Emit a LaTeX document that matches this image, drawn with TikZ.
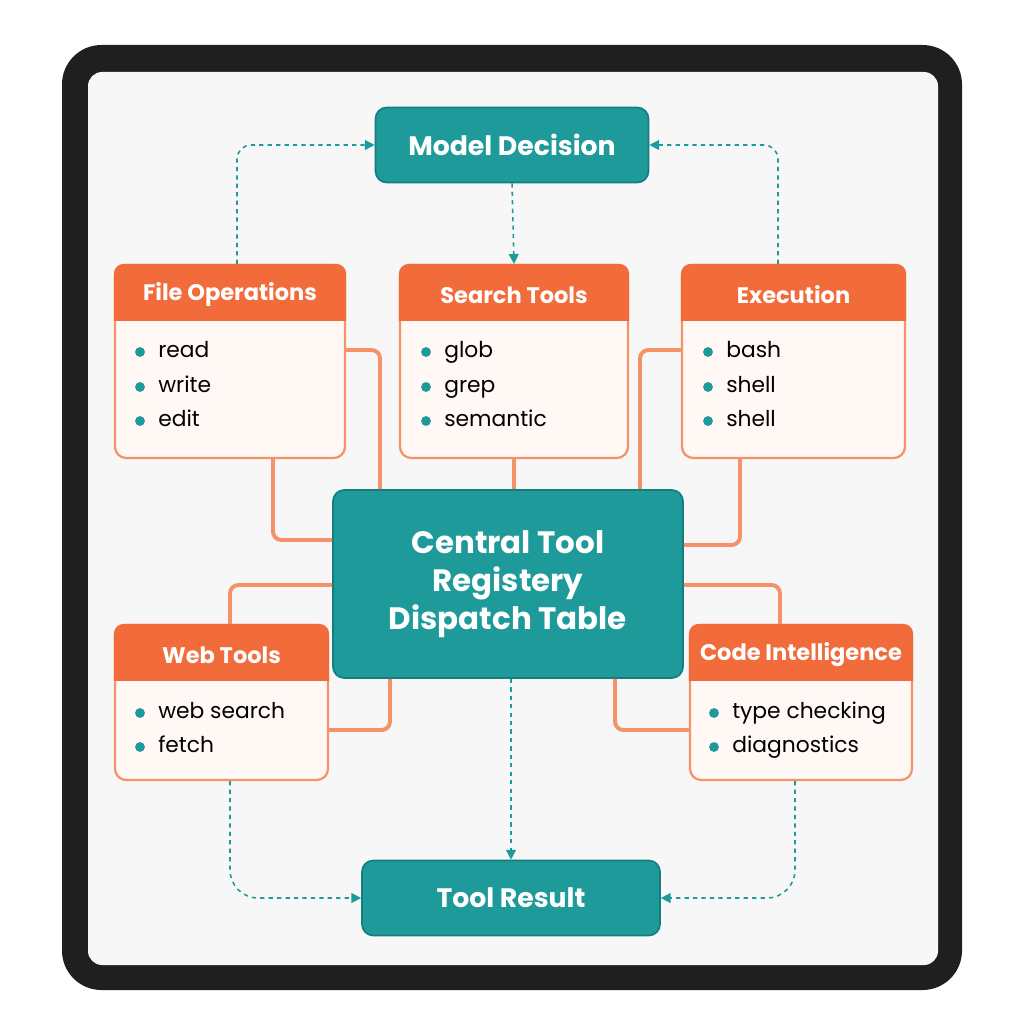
\documentclass[tikz,border=0pt]{standalone}
\usepackage{fontspec}
\setmainfont{Poppins}
\usetikzlibrary{calc,arrows.meta}
\definecolor{teal1}{HTML}{1E9A9A}
\definecolor{tealdk}{HTML}{137E80}
\definecolor{hdr}{HTML}{F26B3A}
\definecolor{wire}{HTML}{F4936A}
\definecolor{body}{HTML}{FFF8F4}
\tikzset{
  teal box/.style={draw=tealdk,line width=1.2pt,fill=teal1,rounded corners=8pt,text=white,font=\bfseries\fontsize{19}{21}\selectfont},
  tool box/.style={draw=wire,line width=1.6pt,fill=body,rounded corners=8pt},
  head/.style={text=white,font=\bfseries\fontsize{16}{18}\selectfont},
  item/.style={anchor=west,font=\fontsize{15.5}{17}\selectfont,inner sep=0pt,text height=11pt,text depth=3pt},
  dot/.style={circle,fill=teal1,inner sep=0pt,minimum size=7pt},
  flow/.style={draw=teal1,dashed,line width=1.1pt,-{Triangle[length=7pt,width=7pt]}},
  wire/.style={draw=wire,line width=2.8pt,rounded corners=6pt},
}
\newcommand{\toolbox}[6]{% name, x1, y1, x2, y2, title
  \node[tool box,minimum width={(#4-#2)*0.025cm},minimum height={(#5-#3)*0.025cm}] (#1) at ({(#2+#4)/2},{(#3+#5)/2}) {};
  \fill[hdr,rounded corners=7pt] (#1.north west) -- (#1.north east) [sharp corners] -- ($(#1.north east)+(0,57)$) -- ($(#1.north west)+(0,57)$) [rounded corners=7pt] -- cycle;
  \node[head] (#1-title) at ($(#1.north)+(0,31)$) {#6};
}
\begin{document}
\begin{tikzpicture}[x=0.025cm,y=-0.025cm]
\useasboundingbox (0,0) rectangle (1024,1024);
\fill[white] (0,0) rectangle (1024,1024);
% tablet
\fill[black!88,rounded corners=28pt] (62,45) rectangle (962,990);
\fill[black!3,rounded corners=10pt] (88,72) rectangle (938,965);
% teal nodes
\node[teal box,minimum width=273*0.025cm,minimum height=75*0.025cm] (model) at (512,145) {Model Decision};
\node[teal box,minimum width=298*0.025cm,minimum height=75*0.025cm] (result) at (511,898) {Tool Result};
\node[teal box,minimum width=350*0.025cm,minimum height=188*0.025cm,align=center,font=\bfseries\fontsize{22}{27}\selectfont] (reg) at (508,584) {Central Tool\\Registery\\Dispatch Table};
% tool groups
\toolbox{file}{115}{265}{345}{458}{File Operations}
\toolbox{search}{400}{265}{628}{458}{Search Tools}
\toolbox{exec}{682}{265}{905}{458}{Execution}
\toolbox{web}{115}{625}{328}{780}{Web Tools}
\toolbox{code}{690}{625}{912}{780}{Code Intelligence}
% items
\foreach \nm/\x/\y/\t in {fa/140/352/read, fb/140/387/write, fc/140/421/edit,
    sa/426/352/glob, sb/426/387/grep, sc/426/421/semantic,
    ea/708/352/bash, eb/708/387/shell, ec/708/421/shell,
    wa/140/713/web search, wb/140/747/fetch,
    ca/714/713/type checking, cb/714/747/diagnostics}{
  \node[dot] (\nm-dot) at (\x,\y) {};
  \node[item] (\nm) at (\x+18,\y) {\t};
}
% wires
\draw[wire] (file.east |- 0,350) -- (380,350) -- (reg.north -| 380,0);
\draw[wire] (file.south -| 273,0) -- (273,540) -- (reg.west |- 0,540);
\draw[wire] (search.south) -- (reg.north -| search.south);
\draw[wire] (exec.west |- 0,350) -- (640,350) -- (reg.north -| 640,0);
\draw[wire] (exec.south -| 740,0) -- (740,545) -- (reg.east |- 0,545);
\draw[wire] (web.north -| 230,0) -- (230,585) -- (reg.west |- 0,585);
\draw[wire] (web.east |- 0,730) -- (390,730) -- (reg.south -| 390,0);
\draw[wire] (code.west |- 0,730) -- (615,730) -- (reg.south -| 615,0);
\draw[wire] (code.north -| 780,0) -- (780,585) -- (reg.east |- 0,585);
% flow
\draw[flow,rounded corners=10pt] (file.north -| 237,0) -- (237,145) -- (model.west);
\draw[flow,rounded corners=10pt] (exec.north -| 778,0) -- (778,145) -- (model.east);
\draw[flow] (model.south) -- (search.north);
\draw[flow] (reg.south -| 511,0) -- (result.north);
\draw[flow,rounded corners=20pt] (web.south -| 230,0) -- (230,898) -- (result.west);
\draw[flow,rounded corners=20pt] (code.south -| 795,0) -- (795,898) -- (result.east);
\end{tikzpicture}
\end{document}
